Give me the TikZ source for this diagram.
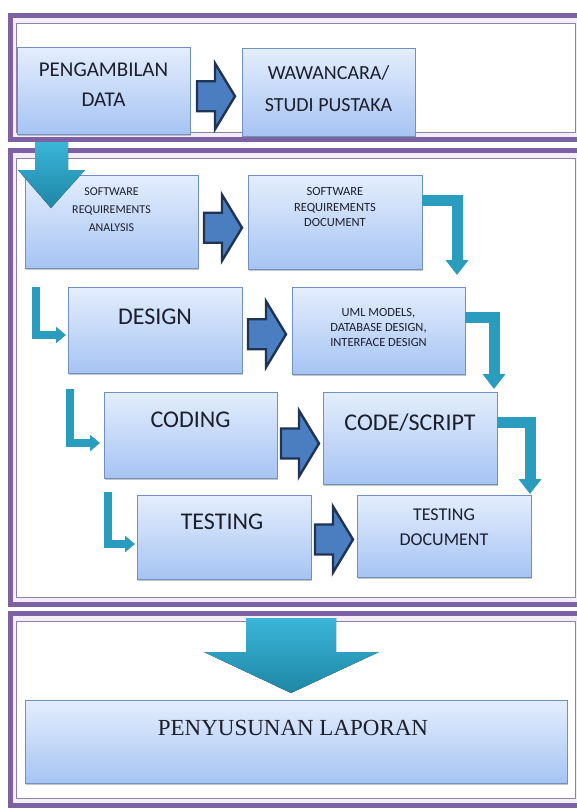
\documentclass[tikz,border=0pt]{standalone}
\usepackage{fontspec}
\setmainfont{Carlito}
\newfontfamily\serifrm{Liberation Serif}
\usetikzlibrary{shadows,calc,arrows.meta}

\definecolor{frameband}{HTML}{7C62A4}
\definecolor{frameline}{HTML}{8F80A8}
\definecolor{framelav}{HTML}{F4EEF8}
\definecolor{boxtop}{HTML}{E4EEFD}
\definecolor{boxbot}{HTML}{A6C4F3}
\definecolor{boxedge}{HTML}{7090C0}
\definecolor{arrfill}{HTML}{4B7DC1}
\definecolor{arredge}{HTML}{1F3354}
\definecolor{tealA}{HTML}{2A9DBE}
\definecolor{tealB}{HTML}{1E86A5}
\definecolor{tealC}{HTML}{3AB5D8}
\definecolor{txt}{HTML}{1C1E2C}

\tikzset{
  band/.style={draw=frameband, line width=5pt},
  innerline/.style={draw=frameline, line width=1pt},
  box/.style={draw=boxedge, line width=0.8pt, top color=boxtop, bottom color=boxbot,
    drop shadow={opacity=0.45, shadow xshift=1.2pt, shadow yshift=-2.2pt},
    inner sep=0pt, outer sep=0pt},
  btxt/.style={text=txt, align=center, inner sep=0pt},
  barrow/.style={draw=arredge, line width=2.4pt, fill=arrfill, line join=miter},
  bentarrow/.style={draw=tealA, line width=11pt, line join=miter,
    -{Triangle[width=22pt,length=15pt]}},
  lbent/.style={draw=tealA, line width=7.5pt, line join=miter,
    -{Triangle[width=16pt,length=10pt]}},
  bigarrow/.style={top color=tealC, bottom color=tealB, draw=none},
  pics/blockarrow/.style={code={
    \draw[barrow] (-19,-15) -- (-1,-15) -- (-1,-33) -- (19,0) -- (-1,33) -- (-1,15) -- (-19,15) -- cycle;}}
}

\begin{document}
\begin{tikzpicture}[x=1pt,y=-1pt]
\useasboundingbox (0,0) rectangle (577,812);
\fill[white] (0,0) rectangle (577,812);

% panels
\foreach \ya/\yb in {15.5/139.5, 150.5/604.5, 613.5/805}{
  \fill[framelav] (10.5,\ya) rectangle (590,\yb);
  \fill[white] (16,\ya+7.5) rectangle (575,\yb-7);
  \draw[innerline] (16,\ya+7.5) rectangle (575,\yb-7);
  \draw[band] (10.5,\ya) rectangle (590,\yb);
}

% boxes
\node[box, minimum width=173, minimum height=87] (b1) at (103.5,90.5) {};
\node[box, minimum width=173, minimum height=88] (b2) at (328.5,92) {};
\node[box, minimum width=173, minimum height=93] (b3) at (111.5,221.5) {};
\node[box, minimum width=174, minimum height=94] (b4) at (335,222) {};
\node[box, minimum width=174, minimum height=86] (b5) at (155,330) {};
\node[box, minimum width=173, minimum height=87] (b6) at (378.5,330.5) {};
\node[box, minimum width=173, minimum height=86] (b7) at (190.5,435) {};
\node[box, minimum width=174, minimum height=92] (b8) at (410,438) {};
\node[box, minimum width=174, minimum height=84] (b9) at (224,537) {};
\node[box, minimum width=174, minimum height=82] (b10) at (444,536) {};
\node[box, minimum width=542, minimum height=83] (b11) at (296,741.5) {};

% texts
\node[btxt, font=\fontsize{21}{30}\selectfont] (t1) at (103.5,85) {PENGAMBILAN\\DATA};
\node[btxt, font=\fontsize{20}{32}\selectfont] (t2) at (328.5,89) {WAWANCARA/\\STUDI PUSTAKA};
\node[btxt, font=\fontsize{12}{18}\selectfont] (t3) at (111.5,210) {SOFTWARE\\REQUIREMENTS\\ANALYSIS};
\node[btxt, font=\fontsize{12.5}{15.5}\selectfont] (t4) at (335,207) {SOFTWARE\\REQUIREMENTS\\DOCUMENT};
\node[btxt, font=\fontsize{24}{28}\selectfont] (t5) at (155,317) {DESIGN};
\node[btxt, font=\fontsize{12.5}{15}\selectfont] (t6) at (378.5,327) {UML MODELS,\\DATABASE DESIGN,\\INTERFACE DESIGN};
\node[btxt, font=\fontsize{24}{28}\selectfont] (t7) at (190.5,420) {CODING};
\node[btxt, font=\fontsize{24}{28}\selectfont] (t8) at (410,423) {CODE/SCRIPT};
\node[btxt, font=\fontsize{24}{28}\selectfont] (t9) at (222,522) {TESTING};
\node[btxt, font=\fontsize{18}{25}\selectfont] (t10) at (444,527) {TESTING\\DOCUMENT};
\node[btxt, font=\serifrm\fontsize{23}{28}\selectfont] (t11) at (293,728) {PENYUSUNAN LAPORAN};

% blue block arrows
\pic at ($(b1.east)!0.5!(b2.west)+(0,5)$) {blockarrow};
\pic at ($(b3.east)!0.5!(b4.west)+(0,6)$) {blockarrow};
\pic at ($(b5.east)!0.5!(b6.west)+(0,4)$) {blockarrow};
\pic at ($(b7.east)!0.5!(b8.west)+(0,7)$) {blockarrow};
\pic at ($(b9.east)!0.5!(b10.west)+(0,3)$) {blockarrow};

% teal bent arrows
\draw[bentarrow] ($(b4.east)+(0,-22)$) -| ($(b6.north east)+(-8,-12)$);
\draw[bentarrow] ($(b6.east)+(0,-13)$) -| ($(b8.north east)+(-3,-3)$);
\draw[bentarrow] ($(b8.east)+(0,-16)$) -| ($(b10.north east)+(-1,-1)$);

% teal L arrows
\draw[lbent] ($(b5.north west)+(-32,0)$) |- ($(b5.west)+(-2,5)$);
\draw[lbent] ($(b7.north west)+(-34,-3)$) |- ($(b7.west)+(-4,8)$);
\draw[lbent] ($(b9.north west)+(-29,-3)$) |- ($(b9.west)+(-2,7)$);

% big teal arrows
\coordinate (tipA) at ($(b3.north west)+(26,33)$);
\fill[bigarrow] (35,142) -- (68,142) -- (68,170) -- (85,170) -- (tipA) -- (18,170) -- (35,170) -- cycle;
\coordinate (tipB) at ($(b11.north)+(-5,-7)$);
\fill[bigarrow] (246,618) -- (336,618) -- (336,652) -- (379,652) -- (tipB) -- (204,652) -- (246,652) -- cycle;
\end{tikzpicture}
\end{document}
